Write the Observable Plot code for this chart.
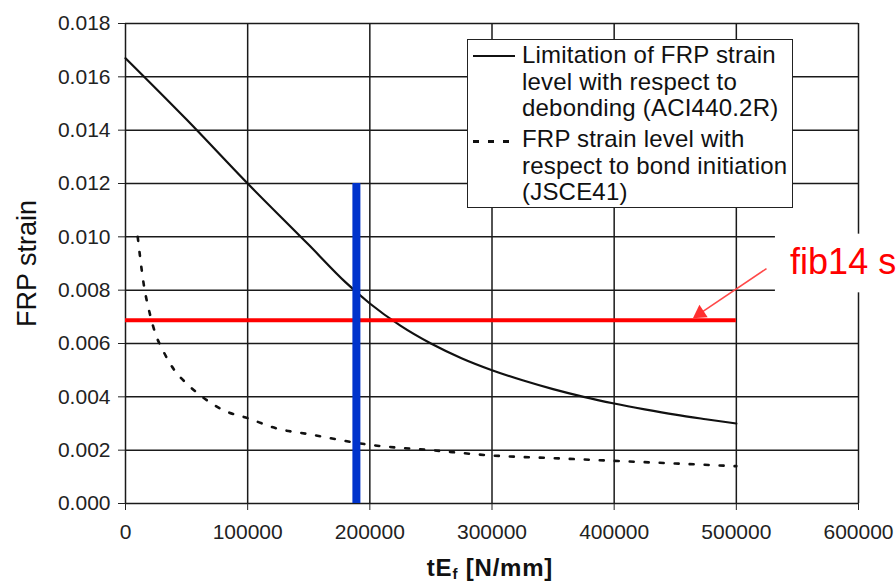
<!DOCTYPE html>
<html>
<head>
<meta charset="utf-8">
<script src="https://cdn.jsdelivr.net/npm/d3@7"></script>
<script src="https://cdn.jsdelivr.net/npm/@observablehq/plot@0.6"></script>
<style>
  html, body { margin: 0; padding: 0; background: #fff; overflow: hidden; }
  #wrap { position: relative; width: 896px; height: 586px; font-family: "Liberation Sans", Arial, sans-serif; color: #111; }
  #legend { position: absolute; left: 467px; top: 39px; width: 326px; height: 169px; box-sizing: border-box;
            border: 1.3px solid #222; background: #fff; }
  .entry { position: absolute; left: 54px; font-size: 24px; line-height: 26.7px; white-space: pre; letter-spacing: 0.2px; }
  .swatch { position: absolute; left: 5px; width: 42px; height: 0; }
  #xtitle { position: absolute; left: 340px; width: 300px; top: 556px; text-align: center; font-weight: bold;
            font-size: 24px; line-height: 24px; letter-spacing: 0.8px; }
  #xtitle sub { font-size: 15px; vertical-align: -3px; line-height: 0; }
</style>
</head>
<body>
<div id="wrap"></div>
<script>
// ---- data ----
const aciX = [0, 50000, 100000, 150000, 180000, 200000, 225000, 250000, 275000, 300000, 325000, 350000, 375000, 400000, 425000, 450000, 475000, 500000];
const aciY = [0.0167, 0.0144, 0.0120, 0.0097, 0.0083, 0.0075, 0.00667, 0.0060, 0.00545, 0.0050, 0.00462, 0.00429, 0.0040, 0.00375, 0.00353, 0.00333, 0.00316, 0.0030];

const jsceX = [10000, 15000, 20000, 25000, 30000, 40000, 50000, 60000, 80000, 100000, 125000, 150000, 200000, 250000, 300000, 350000, 400000, 450000, 500000];
const jsceY = [0.0100, 0.0082, 0.0071, 0.0063, 0.0058, 0.0050, 0.0045, 0.0041, 0.0035, 0.0032, 0.0028, 0.0026, 0.0022, 0.0020, 0.0018, 0.0017, 0.0016, 0.0015, 0.0014];

const xTicks = [0, 100000, 200000, 300000, 400000, 500000, 600000];
const yTicks = [0, 0.002, 0.004, 0.006, 0.008, 0.010, 0.012, 0.014, 0.016, 0.018];

const fibLevel = [0.00687];          // red horizontal line (fib14)
const fibExtent = [0, 500000];
const blueX = [189000];              // blue vertical line
const blueExtent = [0, 0.012];

const arrowFrom = [524700, 0.00881];
const arrowTo = [465750, 0.00699];
const labelBox = [532000, 660000, 0.0079, 0.0101];
const labelText = ["fib14 s"];
const labelAt = [544000, 0.00904];

const legendLabels = [
  "Limitation of FRP strain\nlevel with respect to\ndebonding (ACI440.2R)",
  "FRP strain level with\nrespect to bond initiation\n(JSCE41)"
];
const yTitle = "FRP strain";

// ---- build tables ----
const aci = aciX.map((x, i) => ({x, y: aciY[i]}));
const jsce = jsceX.map((x, i) => ({x, y: jsceY[i]}));

const plot = Plot.plot({
  width: 896,
  height: 586,
  marginLeft: 125,
  marginRight: 38,
  marginTop: 23,
  marginBottom: 83,
  style: {fontFamily: "'Liberation Sans', Arial, sans-serif", background: "white"},
  x: {domain: [0, 600000]},
  y: {domain: [0, 0.018]},
  marks: [
    Plot.gridX(xTicks, {stroke: "#1a1a1a", strokeOpacity: 1, strokeWidth: 1.5}),
    Plot.gridY(yTicks, {stroke: "#1a1a1a", strokeOpacity: 1, strokeWidth: 1.5}),
    Plot.axisX({ticks: xTicks, tickFormat: d => String(d), tickSize: 7, tickPadding: 14, fontSize: 21, color: "#222", label: null}),
    Plot.axisY({ticks: yTicks, tickFormat: d => d.toFixed(3), tickSize: 7, tickPadding: 8, fontSize: 21, color: "#222", label: null}),
    Plot.text([yTitle], {frameAnchor: "left", textAnchor: "middle", dx: -98, rotate: -90, fontSize: 27, fill: "#111"}),
    Plot.line(aci, {x: "x", y: "y", stroke: "#111", strokeWidth: 2.2, curve: "monotone-x"}),
    Plot.line(jsce, {x: "x", y: "y", stroke: "#111", strokeWidth: 2.6, strokeDasharray: "4,11", curve: "monotone-x"}),
    Plot.ruleY(fibLevel, {x1: fibExtent[0], x2: fibExtent[1], stroke: "#ff0000", strokeWidth: 4}),
    Plot.ruleX(blueX, {y1: blueExtent[0], y2: blueExtent[1], stroke: "#0033cc", strokeWidth: 8}),
    Plot.link([0], {x1: arrowFrom[0], y1: arrowFrom[1], x2: arrowTo[0], y2: arrowTo[1],
      stroke: "#ff4848", strokeWidth: 1.6}),
    Plot.dot([0], {x: arrowTo[0], y: arrowTo[1], dx: 5.5, dy: -3.7, symbol: "triangle", r: 5.5,
      rotate: 236, fill: "#ff3030", stroke: "none"}),
    Plot.rect([0], {x1: labelBox[0], x2: labelBox[1], y1: labelBox[2], y2: labelBox[3], fill: "white"}),
    Plot.text(labelText, {x: labelAt[0], y: labelAt[1], textAnchor: "start", fontSize: 36, fill: "#ff0000"})
  ]
});

const wrap = document.getElementById("wrap");
wrap.appendChild(plot);

// legend overlay
const legend = document.createElement("div");
legend.id = "legend";
const entryTops = [2, 86];
const swatchTops = [15, 100];
legendLabels.forEach((t, i) => {
  const e = document.createElement("div");
  e.className = "entry";
  e.style.top = entryTops[i] + "px";
  e.textContent = t;
  legend.appendChild(e);
  const s = document.createElement("div");
  s.className = "swatch";
  s.style.top = swatchTops[i] + "px";
  if (i === 0) {
    s.style.borderTop = "2.5px solid #111";
  } else {
    s.style.height = "3px";
    s.style.background = "repeating-linear-gradient(90deg, #111 0 6px, transparent 6px 15px)";
  }
  legend.appendChild(s);
});
wrap.appendChild(legend);

// x title with subscript
const xt = document.createElement("div");
xt.id = "xtitle";
xt.innerHTML = "tE<sub>f</sub> [N/mm]";
wrap.appendChild(xt);
</script>
</body>
</html>
